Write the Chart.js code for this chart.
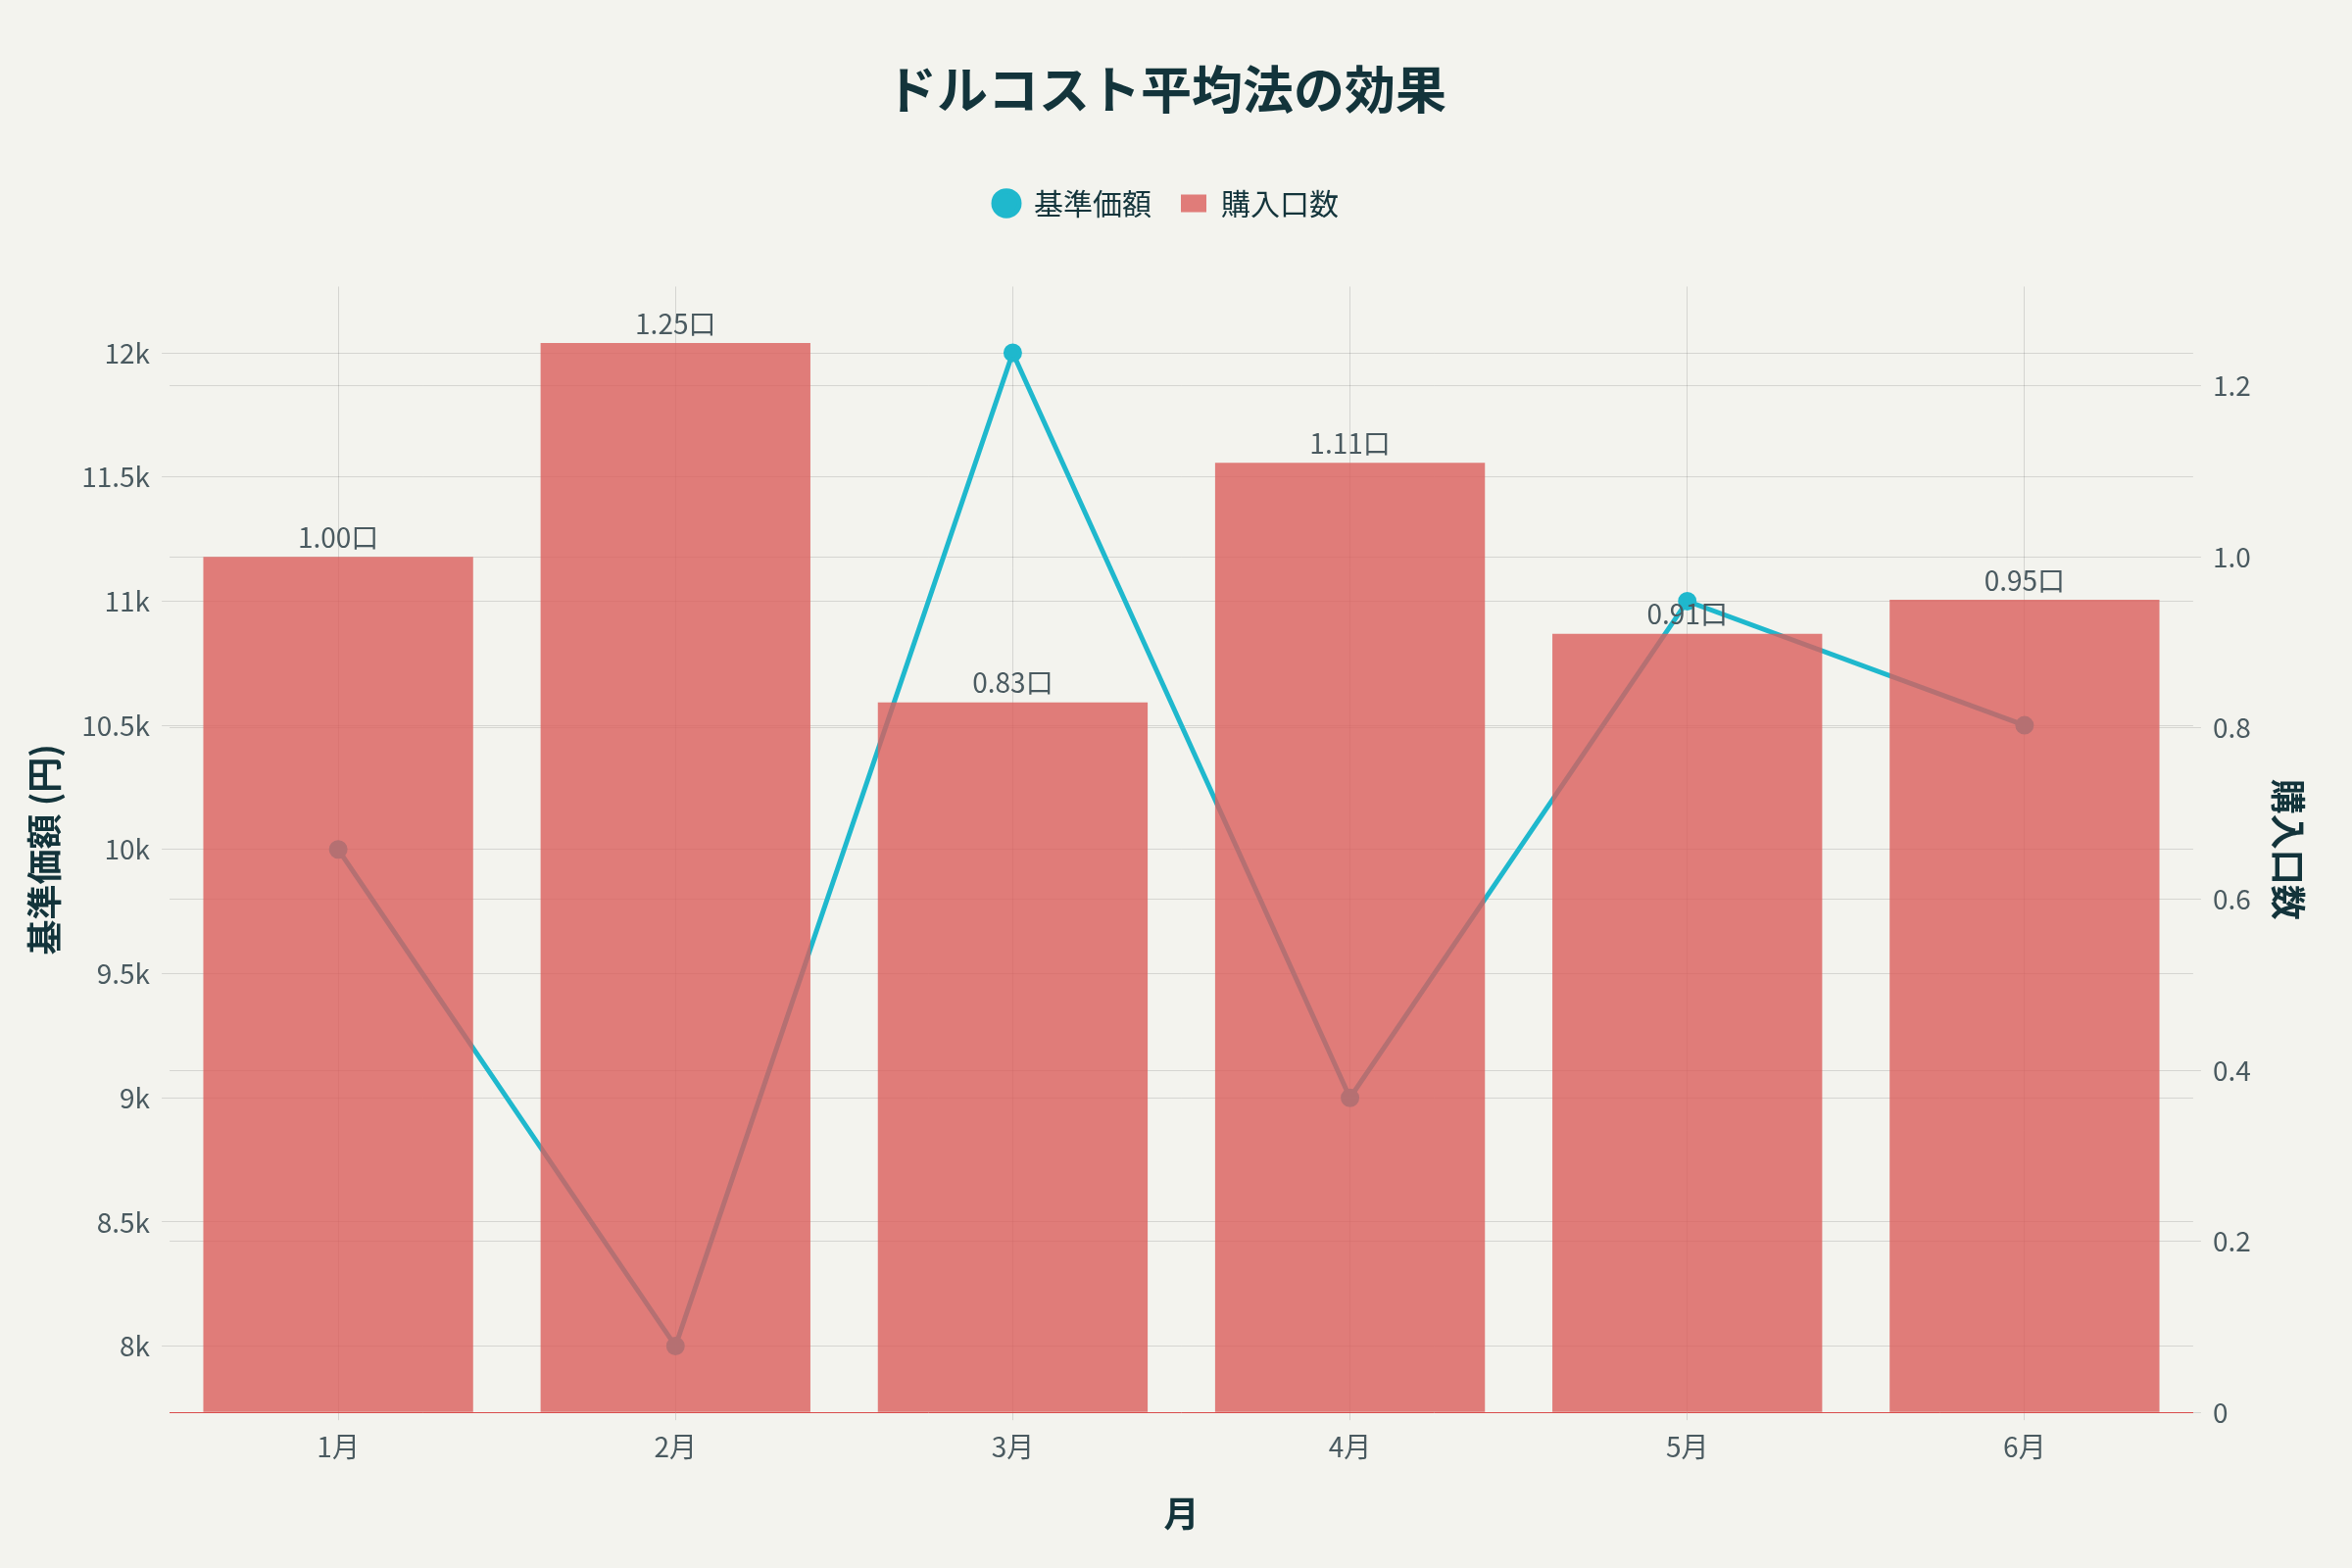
<!DOCTYPE html>
<html><head><meta charset="utf-8">
<script src="https://cdn.jsdelivr.net/npm/chart.js@4/dist/chart.umd.min.js"></script>
<style>html,body{margin:0;background:#f3f3ee;}#w{width:2400px;height:1600px;}</style>
</head><body><div id="w"><canvas id="c"></canvas></div>
<script>
const months = ['1月','2月','3月','4月','5月','6月'];
const prices = [10000, 8000, 12000, 9000, 11000, 10500];
const units = [1.00, 1.25, 0.83, 1.11, 0.91, 0.95];
const FONT = "'Noto Sans CJK JP','Noto Sans',sans-serif";
const labelPlugin = {
  id:'lbl',
  afterDatasetsDraw(chart){
    const ctx = chart.ctx, meta = chart.getDatasetMeta(1);
    ctx.save(); ctx.font = "28px "+FONT; ctx.fillStyle = '#4a5a60';
    ctx.textAlign='center'; ctx.textBaseline='bottom';
    meta.data.forEach((b,i)=>ctx.fillText(units[i].toFixed(2)+'口', b.x, b.y-6));
    ctx.restore();
  }
};
new Chart(document.getElementById('c'), {
  data:{labels:months, datasets:[
    {type:'line', label:'基準価額', data:prices, yAxisID:'y', borderColor:'#1fb8cd', backgroundColor:'#1fb8cd', borderWidth:5, pointRadius:7, pointStyle:'circle', order:2},
    {type:'bar', label:'購入口数', data:units, yAxisID:'y1', backgroundColor:'rgba(219,94,91,0.8)', categoryPercentage:1, barPercentage:0.8, pointStyle:'rect', order:1}
  ]},
  options:{responsive:true, maintainAspectRatio:false, animation:false,
    layout:{padding:{left:20,right:40,top:20,bottom:30}},
    plugins:{
      title:{display:true, text:'ドルコスト平均法の効果', color:'#13343b', font:{family:FONT,size:52,weight:'bold'}, padding:{top:40,bottom:40}},
      legend:{labels:{color:'#13343b', font:{family:FONT,size:30}, usePointStyle:true, pointStyleWidth:26, boxHeight:18, padding:30, sort:(a,b)=>a.datasetIndex-b.datasetIndex}},
      tooltip:{enabled:false}
    },
    scales:{
      x:{grid:{color:'rgba(0,0,0,0.12)', offset:false}, border:{color:'#d94c4c'}, ticks:{color:'#4a5a60', font:{family:FONT,size:28}, padding:10},
        title:{display:true, text:'月', color:'#13343b', font:{family:FONT,size:36,weight:'bold'}, padding:{top:20}}},
      y:{position:'left', min:7733, max:12267, afterBuildTicks(a){a.ticks=[8000,8500,9000,9500,10000,10500,11000,11500,12000].map(v=>({value:v}));},
        afterFit(a){}, ticks:{color:'#4a5a60', font:{family:FONT,size:28}, callback:v=>(v/1000)+'k', padding:12},
        grid:{color:'rgba(0,0,0,0.12)'}, border:{display:false},
        title:{display:true, text:'基準価額 (円)', color:'#13343b', font:{family:FONT,size:36,weight:'bold'}}},
      y1:{position:'right', min:0, max:1.316, afterBuildTicks(a){a.ticks=[0,0.2,0.4,0.6,0.8,1,1.2].map(v=>({value:v}));},
        ticks:{color:'#4a5a60', font:{family:FONT,size:28}, padding:12},
        grid:{color:'rgba(0,0,0,0.12)'}, border:{display:false},
        title:{display:true, text:'購入口数', color:'#13343b', font:{family:FONT,size:36,weight:'bold'}}}
    }
  },
  plugins:[labelPlugin, {id:'legpad', beforeInit(chart){const orig=chart.legend&&chart.legend.fit;}, afterInit(chart){const l=chart.legend; const f=l.fit; l.fit=function(){f.bind(l)(); this.height+=60;};}}]
});
</script></body></html>
